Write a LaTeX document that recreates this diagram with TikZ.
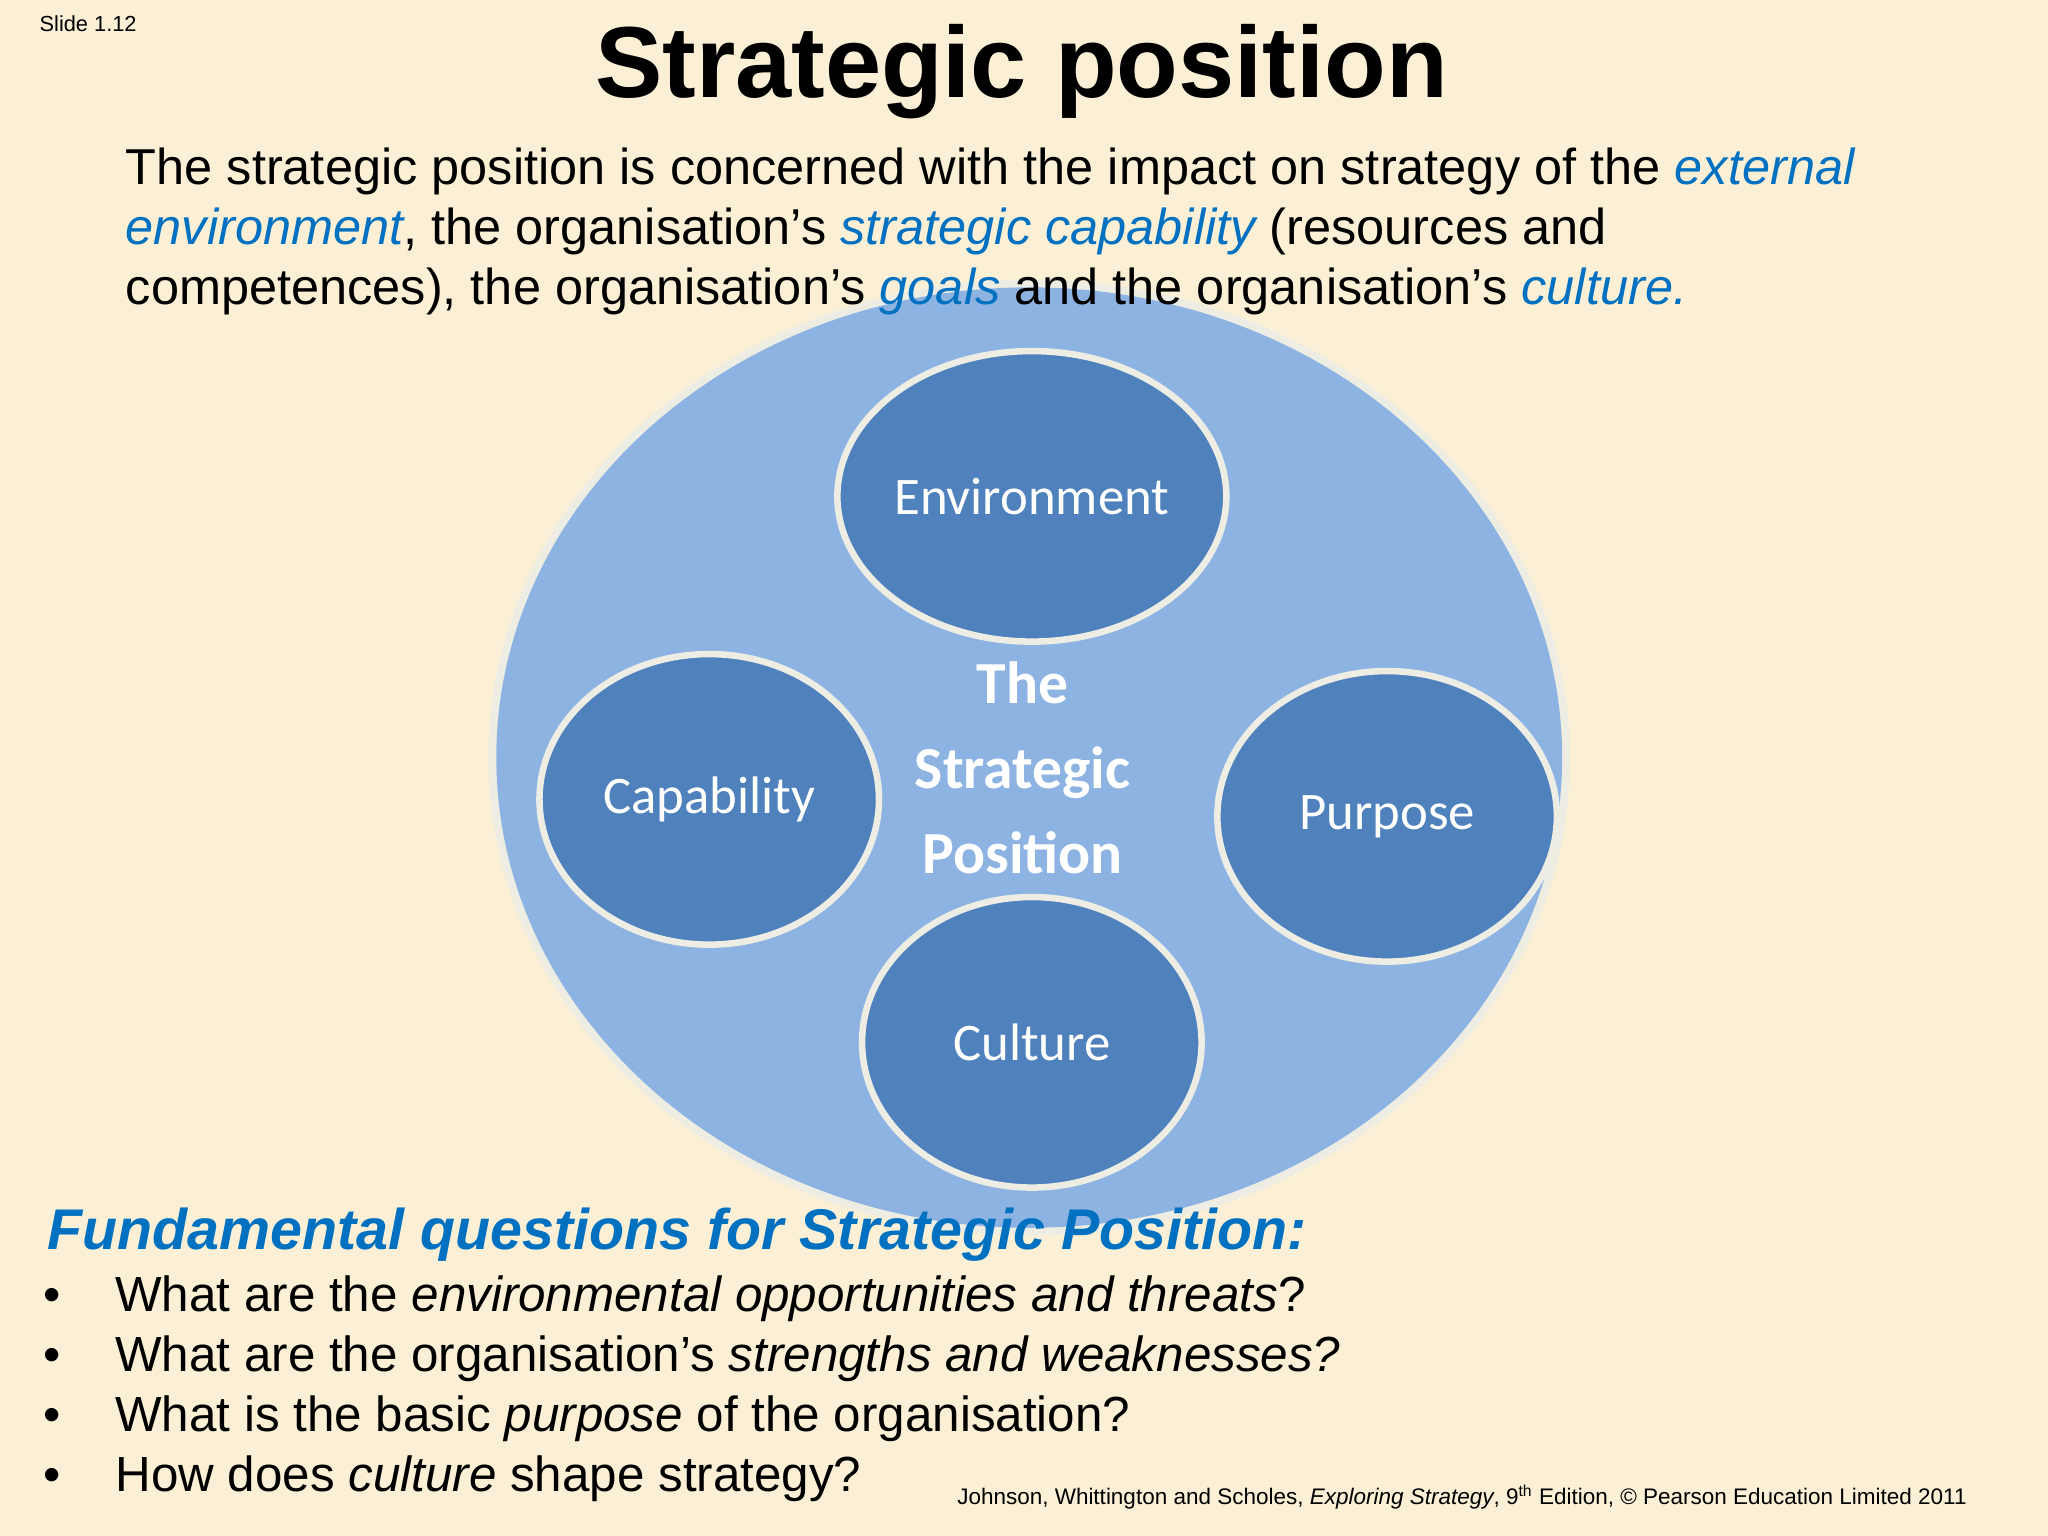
\documentclass[tikz,border=0pt]{standalone}
\usepackage{fontspec}
\setmainfont{Liberation Sans}
\newfontfamily\carfont{Carlito}
\definecolor{bg}{HTML}{FBF0D6}
\definecolor{big}{HTML}{8DB3E2}
\definecolor{small}{HTML}{4F81BD}
\definecolor{rim}{HTML}{EDEDE4}
\definecolor{tblue}{HTML}{0070C0}
\usetikzlibrary{shapes.geometric}
\tikzset{
 small/.style={ellipse, draw=rim, line width=0.1cm, fill=small, minimum width=5.2cm, minimum height=4.45cm, inner sep=0, text=white, font=\carfont\fontsize{23}{27}\selectfont},
 body/.style={anchor=base west, inner sep=0, font=\fontsize{22}{26}\selectfont},
 bul/.style={anchor=base west, inner sep=0, font=\fontsize{21.5}{26}\selectfont}
}
\begin{document}
\begin{tikzpicture}[x=0.02cm,y=-0.02cm]
\fill[bg] (0,0) rectangle (1568,1176);
\useasboundingbox (0,0) rectangle (1568,1176);
\node[anchor=base west,inner sep=0,font=\fontsize{9.5}{11}\selectfont] (sl) at (30,24) {Slide 1.12};
\node[anchor=base,inner sep=0,font=\bfseries\fontsize{44}{50}\selectfont] (title) at (782,75) {Strategic position};
\node[body] (l1) at (96,141) {The strategic position is concerned with the impact on strategy of the \textcolor{tblue}{\itshape external}};
\node[body] (l2) at (96,187) {\textcolor{tblue}{\itshape environment}, the organisation’s \textcolor{tblue}{\itshape strategic capability} (resources and};
\fill[rim] (788,580) ellipse (414 and 366);
\fill[big] (788,580) ellipse (408 and 360);
\node[body] (l3) at (96,233) {competences), the organisation’s \textcolor{tblue}{\itshape goals} and the organisation’s \textcolor{tblue}{\itshape culture.}};
\node[small] (env) at (790,380) {Environment};
\node[small] (cap) at (543,612) {Capability};
\node[small] (pur) at (1062,625) {Purpose};
\node[small] (cul) at (790,798) {Culture};
\node[text=white,align=center,font=\carfont\bfseries\fontsize{26}{37}\selectfont] (ctr) at (783,588) {The\\Strategic\\Position};
\node[anchor=base west,inner sep=0,text=tblue,font=\bfseries\itshape\fontsize{25}{30}\selectfont] (fq) at (36,957) {Fundamental questions for Strategic Position:};
\foreach \y/\t [count=\i] in {1004/{What are the \textit{environmental opportunities and threats}?},1050/{What are the organisation’s \textit{strengths and weaknesses?}},1096/{What is the basic \textit{purpose} of the organisation?},1142/{How does \textit{culture} shape strategy?}}{
 \node[bul] (b\i) at (33,\y) {•};
 \node[bul] (q\i) at (88,\y) {\t};
}
\node[anchor=base east,inner sep=0,font=\fontsize{9.8}{12}\selectfont] (foot) at (1506,1152) {Johnson, Whittington and Scholes, \textit{Exploring Strategy}, 9\textsuperscript{th} Edition, © Pearson Education Limited 2011};
\end{tikzpicture}
\end{document}
